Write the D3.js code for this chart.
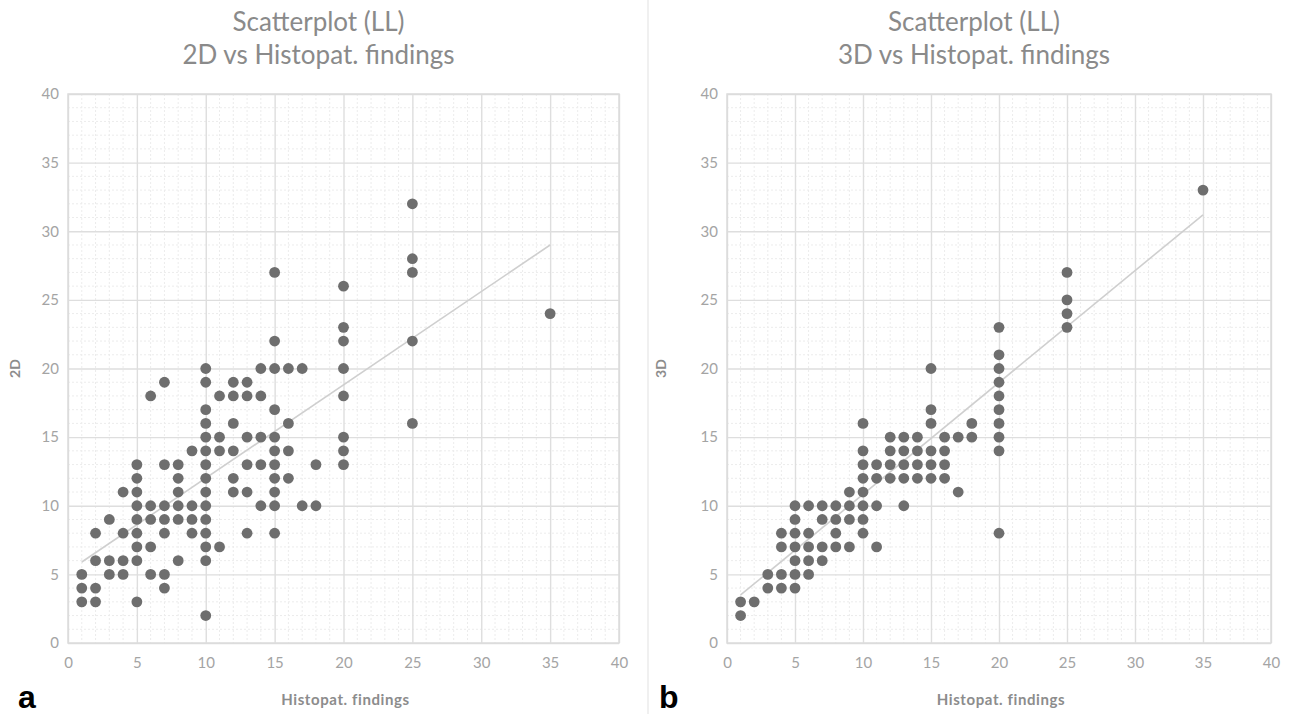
<!DOCTYPE html>
<html>
<head>
<meta charset="utf-8">
<script src="https://cdn.jsdelivr.net/npm/d3@7/dist/d3.min.js"></script>
<style>
  body { margin: 0; background: #fff; }
  svg { display: block; }
</style>
</head>
<body>
<svg id="chart" width="1290" height="714"></svg>
<script>
// axis ticks (both panels share them)
const xTicks = [0, 5, 10, 15, 20, 25, 30, 35, 40];
const yTicks = [0, 5, 10, 15, 20, 25, 30, 35, 40];

// panel a: 2D measurement vs histopathology, [histopat, 2D]
const pts2D = [
  [10, 2],
  [1, 3], [2, 3], [5, 3],
  [1, 4], [2, 4], [7, 4],
  [1, 5], [3, 5], [4, 5], [6, 5], [7, 5],
  [2, 6], [3, 6], [4, 6], [5, 6], [8, 6], [10, 6],
  [5, 7], [6, 7], [10, 7], [11, 7],
  [2, 8], [4, 8], [5, 8], [7, 8], [9, 8], [10, 8], [13, 8], [15, 8],
  [3, 9], [5, 9], [6, 9], [7, 9], [8, 9], [9, 9], [10, 9],
  [5, 10], [6, 10], [7, 10], [8, 10], [9, 10], [10, 10], [14, 10], [15, 10], [17, 10], [18, 10],
  [4, 11], [5, 11], [8, 11], [10, 11], [12, 11], [13, 11], [15, 11],
  [5, 12], [8, 12], [10, 12], [12, 12], [15, 12], [16, 12],
  [5, 13], [7, 13], [8, 13], [10, 13], [13, 13], [14, 13], [15, 13], [18, 13], [20, 13],
  [9, 14], [10, 14], [11, 14], [12, 14], [15, 14], [16, 14], [20, 14],
  [10, 15], [11, 15], [13, 15], [14, 15], [15, 15], [20, 15],
  [10, 16], [12, 16], [16, 16], [25, 16],
  [10, 17], [15, 17],
  [6, 18], [11, 18], [12, 18], [13, 18], [14, 18], [20, 18],
  [7, 19], [10, 19], [12, 19], [13, 19],
  [10, 20], [14, 20], [15, 20], [16, 20], [17, 20], [20, 20],
  [15, 22], [20, 22], [25, 22],
  [20, 23], [35, 24], [20, 26],
  [15, 27], [25, 27], [25, 28], [25, 32]
];

// panel b: 3D measurement vs histopathology, [histopat, 3D]
const pts3D = [
  [1, 2],
  [1, 3], [2, 3],
  [3, 4], [4, 4], [5, 4],
  [3, 5], [4, 5], [5, 5], [6, 5],
  [5, 6], [6, 6], [7, 6],
  [4, 7], [5, 7], [6, 7], [7, 7], [8, 7], [9, 7], [11, 7],
  [4, 8], [5, 8], [6, 8], [8, 8], [10, 8], [20, 8],
  [5, 9], [7, 9], [8, 9], [9, 9], [10, 9],
  [5, 10], [6, 10], [7, 10], [8, 10], [9, 10], [10, 10], [11, 10], [13, 10],
  [9, 11], [10, 11], [17, 11],
  [10, 12], [11, 12], [12, 12], [13, 12], [14, 12], [15, 12], [16, 12],
  [10, 13], [11, 13], [12, 13], [13, 13], [14, 13], [15, 13], [16, 13],
  [10, 14], [12, 14], [13, 14], [14, 14], [15, 14], [16, 14], [20, 14],
  [12, 15], [13, 15], [14, 15], [16, 15], [17, 15], [18, 15], [20, 15],
  [10, 16], [15, 16], [18, 16], [20, 16],
  [15, 17], [20, 17],
  [20, 18], [20, 19], [15, 20], [20, 20], [20, 21],
  [20, 23], [25, 23], [25, 24], [25, 25], [25, 27],
  [35, 33]
];

// linear trend lines as drawn in the picture (start / end)
const trend2D = [[1, 5.9], [35, 29.0]];
const trend3D = [[1, 3.5], [35, 31.2]];

const panels = [
  { letter: 'a', sub: '2D vs Histopat. findings', yName: '2D', pts: pts2D, trend: trend2D,
    left: 68, right: 619, yNameX: 15, letterX: 18 },
  { letter: 'b', sub: '3D vs Histopat. findings', yName: '3D', pts: pts3D, trend: trend3D,
    left: 727, right: 1271, yNameX: 661, letterX: 659 }
];

const plotTop = 94, plotBottom = 643;
const svg = d3.select('#chart');

// thin divider between the two panels
svg.append('line')
  .attr('x1', 648).attr('x2', 648)
  .attr('y1', 0).attr('y2', 714)
  .attr('stroke', '#ebebeb')
  .attr('stroke-width', 1.5);

panels.forEach(p => {
  const x = d3.scaleLinear().domain([0, 40]).range([p.left, p.right]);
  const y = d3.scaleLinear().domain([0, 40]).range([plotBottom, plotTop]);
  const g = svg.append('g');
  const cx = (p.left + p.right) / 2;

  // minor grid, every unit
  const minor = d3.range(1, 40).filter(v => v % 5 !== 0);
  g.append('g').selectAll('line').data(minor).join('line')
    .attr('x1', d => x(d)).attr('x2', d => x(d))
    .attr('y1', plotTop).attr('y2', plotBottom)
    .attr('stroke', '#ececec').attr('stroke-dasharray', '2,2');
  g.append('g').selectAll('line').data(minor).join('line')
    .attr('y1', d => y(d)).attr('y2', d => y(d))
    .attr('x1', p.left).attr('x2', p.right)
    .attr('stroke', '#ececec').attr('stroke-dasharray', '2,2');

  // major grid via axes
  g.append('g')
    .attr('transform', `translate(0,${plotBottom})`)
    .call(d3.axisBottom(x).tickValues(xTicks).tickSize(-(plotBottom - plotTop)).tickPadding(14))
    .call(a => a.select('.domain').remove())
    .call(a => a.selectAll('line').attr('stroke', '#dedede').attr('stroke-width', 1.4))
    .call(a => a.selectAll('text').attr('fill', '#a4a4a4').attr('font-size', 15)
      .attr('font-family', 'Lato, "Open Sans", sans-serif'));
  g.append('g')
    .attr('transform', `translate(${p.left},0)`)
    .call(d3.axisLeft(y).tickValues(yTicks).tickSize(-(p.right - p.left)).tickPadding(9))
    .call(a => a.select('.domain').remove())
    .call(a => a.selectAll('line').attr('stroke', '#dedede').attr('stroke-width', 1.4))
    .call(a => a.selectAll('text').attr('fill', '#a4a4a4').attr('font-size', 15)
      .attr('font-family', 'Lato, "Open Sans", sans-serif'));

  // plot frame
  g.append('rect')
    .attr('x', p.left).attr('y', plotTop)
    .attr('width', p.right - p.left).attr('height', plotBottom - plotTop)
    .attr('fill', 'none').attr('stroke', '#dcdcdc').attr('stroke-width', 1.5);

  // trend line
  g.append('path')
    .datum(p.trend)
    .attr('d', d3.line().x(d => x(d[0])).y(d => y(d[1])))
    .attr('fill', 'none')
    .attr('stroke', '#cfcfcf')
    .attr('stroke-width', 1.6);

  // points
  g.append('g').selectAll('circle').data(p.pts).join('circle')
    .attr('cx', d => x(d[0]))
    .attr('cy', d => y(d[1]))
    .attr('r', 5.4)
    .attr('fill', '#6e6e6e');

  // titles
  const titles = g.append('text')
    .attr('text-anchor', 'middle')
    .attr('fill', '#8a8a8a')
    .attr('font-family', 'Lato, "Open Sans", sans-serif')
    .attr('font-size', 26);
  titles.append('tspan').attr('x', cx - 25).attr('y', 31).text('Scatterplot (LL)');
  titles.append('tspan').attr('x', cx - 25).attr('y', 64).text(p.sub);

  // axis titles
  g.append('text')
    .attr('x', cx + 2).attr('y', 705)
    .attr('text-anchor', 'middle')
    .attr('fill', '#8c8c8c')
    .attr('font-weight', 'bold')
    .attr('font-size', 15)
    .attr('letter-spacing', 0.6)
    .attr('font-family', 'Lato, "Open Sans", sans-serif')
    .text('Histopat. findings');
  g.append('text')
    .attr('transform', `translate(${p.yNameX + 5},${(plotTop + plotBottom) / 2}) rotate(-90)`)
    .attr('text-anchor', 'middle')
    .attr('fill', '#8c8c8c')
    .attr('font-weight', 'bold')
    .attr('font-size', 14)
    .attr('font-family', 'Lato, "Open Sans", sans-serif')
    .text(p.yName);

  // panel letter
  g.append('text')
    .attr('x', p.letterX).attr('y', 708)
    .attr('fill', '#000')
    .attr('font-weight', 'bold')
    .attr('font-size', 32)
    .attr('font-family', '"Liberation Sans", Arial, sans-serif')
    .text(p.letter);
});
</script>
</body>
</html>
